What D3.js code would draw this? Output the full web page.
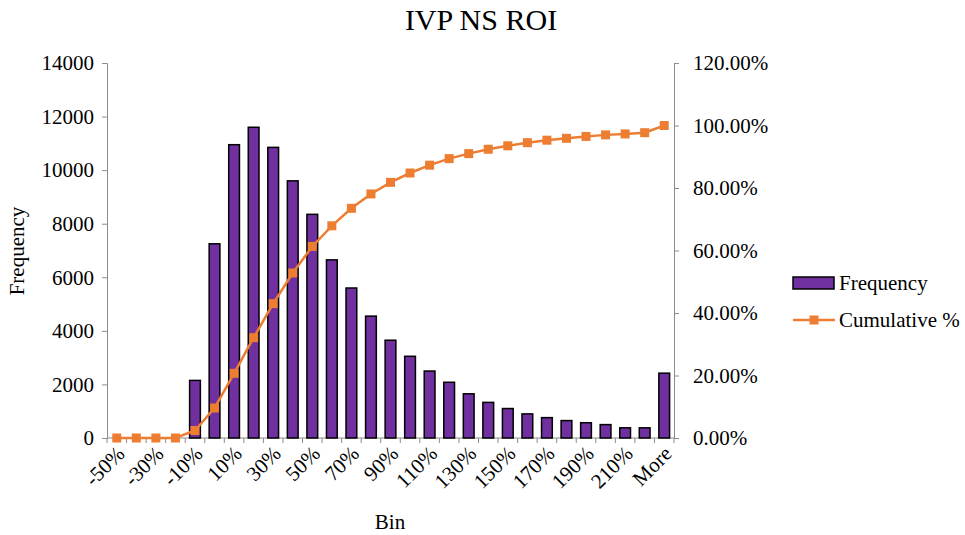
<html>
<head>
<script src="https://d3js.org/d3.v7.min.js"></script>
<style>
  body { margin: 0; background: #fff; }
  svg text { font-family: "Liberation Serif", "Times New Roman", serif; fill: #000; }
</style>
</head>
<body>
<svg id="chart" width="965" height="535"></svg>
<script>
const bins = ["-50%","-40%","-30%","-20%","-10%","0%","10%","20%","30%","40%","50%","60%","70%","80%","90%",
  "100%","110%","120%","130%","140%","150%","160%","170%","180%","190%","200%","210%","220%","More"];
const frequency = [0,0,0,0,2150,7250,10950,11600,10850,9600,8350,6650,5600,4550,3650,
  3050,2500,2080,1650,1330,1100,900,760,650,570,500,380,380,2420];
const cumulative = [0,0,0,0,2.4,9.6,20.7,32.1,43.0,52.8,61.3,67.9,73.5,78.1,81.8,
  84.8,87.3,89.4,91.0,92.4,93.5,94.5,95.3,95.9,96.5,97.0,97.3,97.7,100];
const freqTicks = [0,2000,4000,6000,8000,10000,12000,14000];
const pctTicks = [0,20,40,60,80,100,120];

const FONT = "Liberation Serif";
const svg = d3.select("#chart");
const margins = {top: 63, left: 107, right: 291, bottom: 97};
const chartWidth = 965 - margins.left - margins.right;
const chartHeight = 535 - margins.top - margins.bottom;
const g = svg.append("g").attr("transform", `translate(${margins.left},${margins.top})`);

const xScale = d3.scaleBand().domain(bins).range([0, chartWidth]).paddingInner(0.45).paddingOuter(0.225);
const yScale = d3.scaleLinear().domain([0, 14000]).range([chartHeight, 0]);
const pScale = d3.scaleLinear().domain([0, 120]).range([chartHeight, 0]);
const axisColor = "#8c8c8c";

// left axis
const leftA = g.append("g").call(d3.axisLeft(yScale).tickValues(freqTicks).tickSize(5).tickPadding(8)
  .tickFormat(d3.format("d")));
// right axis
const rightA = g.append("g").attr("transform", `translate(${chartWidth},0)`)
  .call(d3.axisRight(pScale).tickValues(pctTicks).tickSize(5).tickPadding(14).tickFormat(d => d.toFixed(2) + "%"));
[leftA, rightA].forEach(a => {
  a.attr("font-family", FONT).attr("font-size", 21);
  a.select(".domain").attr("stroke", axisColor);
  a.selectAll("line").attr("stroke", axisColor);
});

// bottom axis
g.append("line").attr("x1", 0).attr("x2", chartWidth).attr("y1", chartHeight).attr("y2", chartHeight)
  .attr("stroke", axisColor);
const step = xScale.step();
g.selectAll("line.xtick").data(d3.range(bins.length + 1)).join("line")
  .attr("class", "xtick")
  .attr("x1", d => d * step).attr("x2", d => d * step)
  .attr("y1", chartHeight).attr("y2", chartHeight + 5)
  .attr("stroke", axisColor);
g.selectAll("text.xlab").data(bins.filter((d, i) => i % 2 === 0)).join("text")
  .attr("class", "xlab")
  .attr("text-anchor", "end")
  .attr("font-family", FONT).attr("font-size", 21)
  .attr("transform", d => `translate(${xScale(d) + xScale.bandwidth() / 2 + 9},${chartHeight + 17}) rotate(-45)`)
  .text(d => d);

// bars
g.selectAll("rect.bar").data(bins).join("rect")
  .attr("class", "bar")
  .attr("x", d => xScale(d))
  .attr("y", (d, i) => yScale(frequency[i]))
  .attr("width", xScale.bandwidth())
  .attr("height", (d, i) => chartHeight - yScale(frequency[i]))
  .attr("fill", "#7030a0")
  .attr("stroke", "#000")
  .attr("stroke-width", 1.5)
  .style("display", (d, i) => frequency[i] > 0 ? null : "none");

// cumulative line
const cx = d => xScale(d) + xScale.bandwidth() / 2;
const line = d3.line().x(d => cx(d)).y((d, i) => pScale(cumulative[i]));
g.append("path").datum(bins).attr("d", line)
  .attr("fill", "none").attr("stroke", "#ed7d31").attr("stroke-width", 2.5);
g.selectAll("rect.mk").data(bins).join("rect")
  .attr("class", "mk")
  .attr("x", d => cx(d) - 4.5)
  .attr("y", (d, i) => pScale(cumulative[i]) - 4.5)
  .attr("width", 9).attr("height", 9)
  .attr("fill", "#ed7d31");

// titles
svg.append("text").attr("x", 481).attr("y", 30).attr("text-anchor", "middle")
  .attr("font-family", FONT).attr("font-size", 30).text("IVP NS ROI");
svg.append("text").attr("x", 390).attr("y", 529).attr("text-anchor", "middle")
  .attr("font-family", FONT).attr("font-size", 21).text("Bin");
svg.append("text").attr("transform", "translate(24,251) rotate(-90)").attr("text-anchor", "middle")
  .attr("font-family", FONT).attr("font-size", 21).text("Frequency");

// legend
const lg = svg.append("g").attr("transform", "translate(793,283)");
lg.append("rect").attr("x", 0).attr("y", -6).attr("width", 41).attr("height", 12)
  .attr("fill", "#7030a0").attr("stroke", "#000").attr("stroke-width", 1.5);
lg.append("text").attr("x", 46).attr("y", 7).attr("font-family", FONT).attr("font-size", 21).text("Frequency");
lg.append("line").attr("x1", 0).attr("x2", 42).attr("y1", 37).attr("y2", 37)
  .attr("stroke", "#ed7d31").attr("stroke-width", 2.5);
lg.append("rect").attr("x", 16.5).attr("y", 32.5).attr("width", 9).attr("height", 9).attr("fill", "#ed7d31");
lg.append("text").attr("x", 46).attr("y", 44).attr("font-family", FONT).attr("font-size", 21).text("Cumulative %");
</script>
</body>
</html>
